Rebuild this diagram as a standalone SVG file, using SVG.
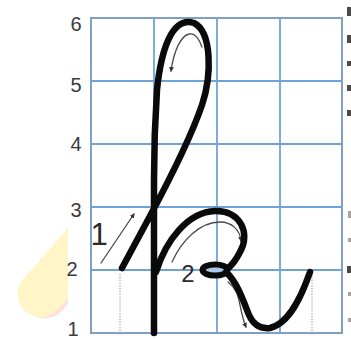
<svg xmlns="http://www.w3.org/2000/svg" width="351" height="339" viewBox="0 0 351 339">
<style>
.grid{stroke:#6ea3d8;stroke-width:1.8;fill:none}
.border{stroke:#7f9fc4;stroke-width:2;fill:none}
.axis{font-family:"Liberation Sans",Arial,sans-serif;font-size:20px;fill:#3a3a3a;text-anchor:middle}
.lbl{font-family:"Liberation Sans",Arial,sans-serif;fill:#2a2a2a;text-anchor:middle}
.ink{stroke:#0a0a0a;stroke-width:6.5;fill:none;stroke-linecap:round;stroke-linejoin:round}
.guide{stroke:#4a4a4a;stroke-width:1.3;fill:none;stroke-linecap:round}
.dots{stroke:#9a9a9a;stroke-width:1.2;stroke-dasharray:1.2 1.6;fill:none}
.frag{fill:#4a4a4a}
.fragl{fill:#a5a5a5}
</style>
<defs>
<marker id="ah" viewBox="0 0 10 10" refX="8" refY="5" markerWidth="5" markerHeight="5" orient="auto" markerUnits="userSpaceOnUse">
<path d="M0,0 L10,5 L0,10 z" fill="#333"/>
</marker>
<clipPath id="leftclip"><rect x="0" y="0" width="68" height="339"/></clipPath>
</defs>
<rect x="0" y="0" width="351" height="339" fill="#ffffff"/>
<g id="pencil" clip-path="url(#leftclip)">
<g transform="translate(40,295) rotate(-49)">
<rect x="-20" y="-19" width="130" height="46" rx="23" fill="#fbe2dc"/>
<rect x="-22" y="-23" width="130" height="46" rx="23" fill="#fff5c6"/>
</g>
</g>
<g id="grid">
<line class="grid" x1="154" y1="18" x2="154" y2="333"/>
<line class="grid" x1="217" y1="18" x2="217" y2="333"/>
<line class="grid" x1="280" y1="18" x2="280" y2="333"/>
<line class="grid" x1="91" y1="81" x2="342" y2="81"/>
<line class="grid" x1="91" y1="144" x2="342" y2="144"/>
<line class="grid" x1="91" y1="207" x2="342" y2="207"/>
<line class="grid" x1="91" y1="270" x2="342" y2="270"/>
<rect class="border" x="91" y="18" width="251" height="315"/>
</g>
<g id="axis-labels">
<text class="axis" x="76" y="31">6</text>
<text class="axis" x="76" y="92">5</text>
<text class="axis" x="76" y="151">4</text>
<text class="axis" x="76" y="217">3</text>
<text class="axis" x="72" y="276">2</text>
<text class="axis" x="73" y="336">1</text>
</g>
<g id="connectors">
<line class="dots" x1="120" y1="274" x2="120" y2="331"/>
<line class="dots" x1="312" y1="274" x2="312" y2="331"/>
<path class="guide" d="M101,263 L134,214" marker-end="url(#ah)"/>
<path class="guide" d="M202,47 C198,36 193,33 189,34 C181,36 174,50 171,71" marker-end="url(#ah)"/>
<path class="guide" d="M172,262 C182,240 200,222 220,222 C232,222 240,230 241,241" marker-end="url(#ah)"/>
<path class="guide" d="M228,282 C236,288 238,295 240,305 C242,315 243,320 246,327" marker-end="url(#ah)"/>
</g>
<g id="letter-stem">
<path class="ink" d="M122,268 L150,216 C165,188 190,140 202,105 C212,75 212,32 194,23 C172,16 161,50 157,90 C155,120 154,150 154,180 L154,333"/>
</g>
<g id="letter-arc">
<path class="ink" d="M156,272 C166,240 188,212 215,211 C240,210 251,233 240,252 C235,262 230,267 226,270"/>
<ellipse cx="215" cy="270" rx="12.5" ry="5.5" fill="#a9c9e6" stroke="#0a0a0a" stroke-width="6"/>
<path class="ink" d="M226,272 C237,282 243,300 249,315 C254,326 262,329 270,328 C290,323 302,295 310,272"/>
</g>
<g id="step-labels">
<text class="lbl" x="99" y="245" font-size="31">1</text>
<text class="lbl" x="188" y="282" font-size="24">2</text>
</g>
<g id="page-edge">
<rect class="frag" x="347" y="7" width="4" height="9"/>
<rect class="frag" x="347" y="35" width="4" height="8"/>
<rect class="frag" x="347" y="61" width="4" height="5"/>
<rect class="frag" x="347" y="85" width="4" height="6"/>
<rect class="frag" x="347" y="110" width="4" height="6"/>
<rect class="fragl" x="348" y="211" width="3" height="7"/>
<rect class="fragl" x="348" y="238" width="3" height="4"/>
<rect class="frag" x="347" y="266" width="4" height="7"/>
<rect class="fragl" x="348" y="292" width="3" height="4"/>
<rect class="fragl" x="348" y="318" width="3" height="4"/>
</g>
</svg>
